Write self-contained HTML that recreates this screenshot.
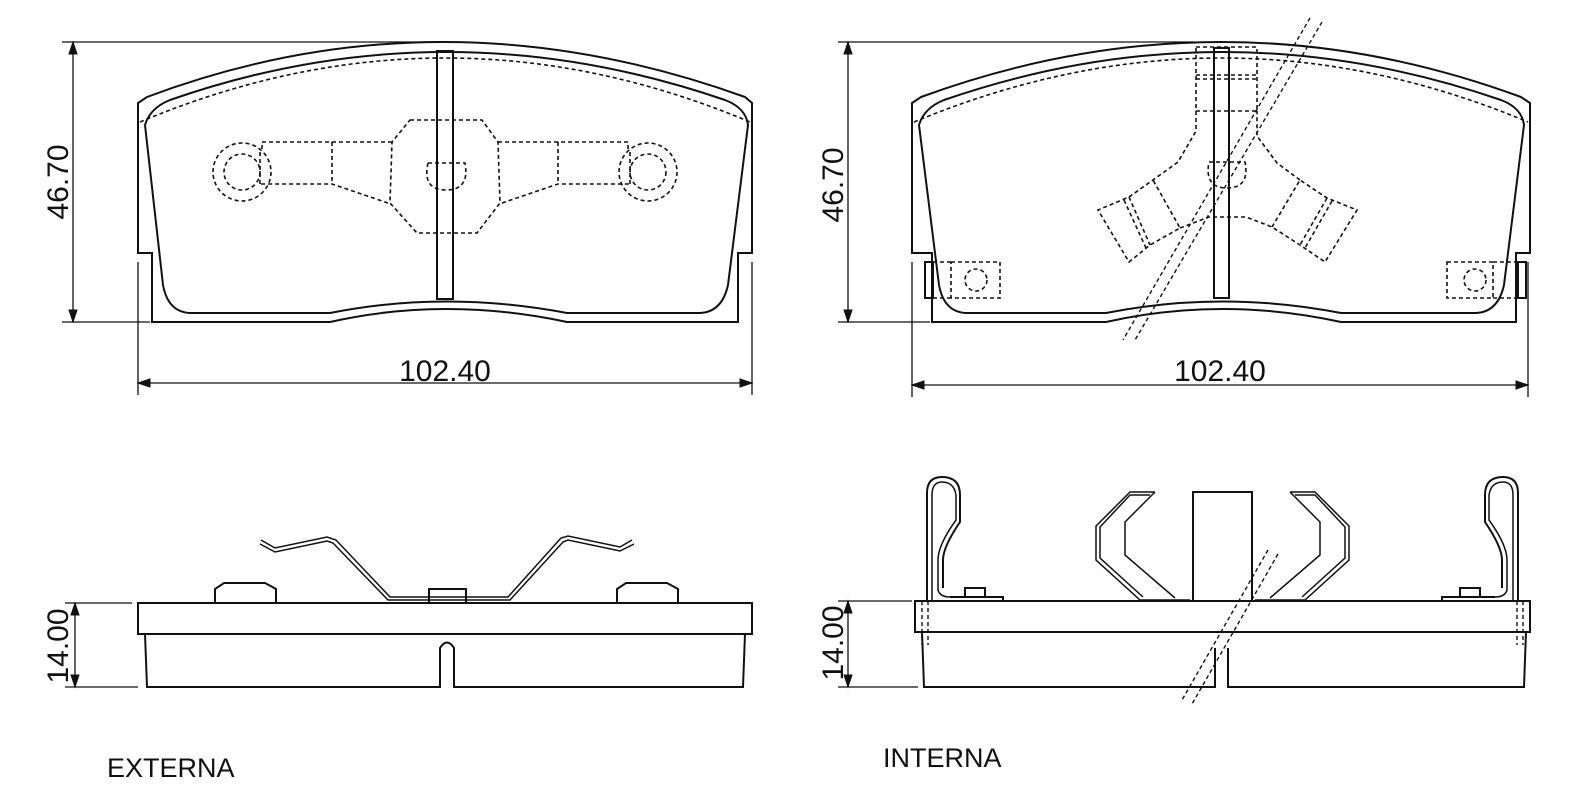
<!DOCTYPE html>
<html><head><meta charset="utf-8"><style>
html,body{margin:0;padding:0;background:#fff;}
svg{display:block}
text{font-family:"Liberation Sans",sans-serif;fill:#111}
</style></head><body>
<svg width="1573" height="800" viewBox="0 0 1573 800" xmlns="http://www.w3.org/2000/svg">
<g fill="none" stroke="#111" stroke-width="2">
<!-- ===== TOP LEFT PAD ===== -->
<path d="M138,253 L138,103 L147,97 Q440,-13 745,97 L752,103 L752,253 L738,253 L738,322 L567,322 Q445,296 330,322 L152,322 L152,253 Z"/>
<path d="M145,125 Q150,108 170,100 Q445,4 725,100 Q746,108 748,125 L728,285 Q722,312 700,313 L567,313 Q445,290 330,313 L190,313 Q168,312 163,285 Z"/>
<rect x="437" y="51" width="16" height="248"/>
<path d="M140,122 Q445,-6 750,122" stroke-dasharray="4,3" stroke-width="1.6"/>
<g stroke-dasharray="4,3" stroke-width="1.6">
<path d="M410,120 L482,120 L498,142 L500,203 L477,233 L417,233 L390,203 L392,142 Z"/>
<path d="M392,142 L262,142 L262,150 M388,203 L332,184 L260,184 M332,142 L332,184"/>
<circle cx="242" cy="172" r="29"/><circle cx="242" cy="172" r="18"/>
<path d="M260,152 L260,186"/>
<path d="M498,142 L628,142 L628,150 M502,203 L558,184 L630,184 M558,142 L558,184"/>
<circle cx="648" cy="172" r="29"/><circle cx="648" cy="172" r="18"/>
<path d="M630,152 L630,186"/>
<path d="M428,163 L465,163 Q470,190 446,190 Q422,190 428,163"/>
</g>
<path d="M62,42 L440,42 M62,322 L150,322 M73,42 L73,322 M138,262 L138,395 M752,262 L752,395 M138,383 L752,383" stroke-width="1.3"/>
<path d="M73,42 l-4,12 l8,0 Z M73,322 l-4,-12 l8,0 Z M138,383 l12,-4 l0,8 Z M752,383 l-12,-4 l0,8 Z" fill="#111" stroke-width="1"/>

<!-- ===== TOP RIGHT PAD ===== -->
<path d="M912,253 L912,103 L921,97 Q1222,-13 1521,97 L1530,103 L1530,253 L1516,253 L1516,322 L1341,322 Q1222,296 1106,322 L932,322 L932,253 Z"/>
<path d="M919,125 Q924,108 944,100 Q1222,4 1501,100 Q1522,108 1524,125 L1504,285 Q1498,312 1476,313 L1341,313 Q1222,290 1106,313 L966,313 Q944,312 939,285 Z"/>
<rect x="1214" y="48" width="15" height="250"/>
<rect x="925" y="262" width="8" height="36"/><rect x="1518" y="262" width="8" height="36"/>
<g stroke-dasharray="4,3" stroke-width="1.6">
<path d="M914,122 Q1222,-6 1528,122"/>
<path d="M1196,47 L1257,47 L1257,111 L1196,111 Z M1196,75 L1257,75 M1196,79 L1257,79"/>
<path d="M1196,111 L1196,131 L1178,162 L1153,180 L1129,197 L1098,210 L1129,262 L1150,245 L1180,228 L1153,180 M1129,197 L1150,245 M1124,200 L1146,248"/>
<path d="M1180,228 L1209,217 L1246,217 L1272,227 L1300,245 L1325,262 L1357,210 L1327,198 L1300,180 L1272,227 M1327,198 L1300,245 M1332,201 L1305,248 M1300,180 L1277,163 L1257,136 L1257,111"/>
<path d="M1209,162 L1245,162 Q1250,188 1227,188 Q1204,188 1209,162"/>
<path d="M951,262 L1000,262 L1000,298 L951,298 Z M933,262 L951,262 M933,298 L951,298"/><circle cx="976" cy="280" r="11"/>
<path d="M1447,262 L1493,262 L1493,298 L1447,298 Z M1493,262 L1518,262 M1493,298 L1518,298"/><circle cx="1475" cy="280" r="11"/>
<path d="M1310,18 L1123,340 M1322,22 L1135,340" stroke-width="1.4"/>
</g>
<path d="M838,42 L1195,42 M838,322 L930,322 M848,42 L848,322 M912,262 L912,397 M1528,262 L1528,397 M912,385 L1528,385" stroke-width="1.3"/>
<path d="M848,42 l-4,12 l8,0 Z M848,322 l-4,-12 l8,0 Z M912,385 l12,-4 l0,8 Z M1528,385 l-12,-4 l0,8 Z" fill="#111" stroke-width="1"/>

<!-- ===== BOTTOM LEFT SIDE VIEW ===== -->
<rect x="138" y="603" width="614" height="31"/>
<path d="M145,634 L147,687 L440,687 L440,648 Q447,637 454,648 L454,687 L743,687 L745,634"/>
<path d="M215,603 L215,589 L224,583 L265,583 L276,589 L276,603 Z M617,603 L617,589 L626,583 L667,583 L678,589 L678,603 Z"/>
<rect x="429" y="589" width="37" height="14"/>
<path d="M260,544 L275,552 L327,541 L333,543 L388,600 L510,600 L563,542 L568,540 L620,551 L634,544" stroke-width="1.5"/>
<path d="M261,540 L275,548 L327,537 L336,540 L390,597 L508,597 L561,538 L568,536 L620,547 L632,540" stroke-width="1.5"/>
<path d="M65,603 L132,603 M65,687 L138,687 M75,603 L75,687" stroke-width="1.3"/>
<path d="M75,603 l-4,12 l8,0 Z M75,687 l-4,-12 l8,0 Z" fill="#111" stroke-width="1"/>

<!-- ===== BOTTOM RIGHT SIDE VIEW ===== -->
<rect x="915" y="601" width="615" height="31"/>
<path d="M922,632 L924,687 L1215,687 L1215,648 M1228,648 L1228,687 L1524,687 L1526,632"/>
<path d="M1193,600 L1193,492 L1252,492 L1252,600"/>
<path d="M932,601 L932,495 Q932,482 942,482 Q954,482 956,495 L956,520 Q938,545 938,560 L938,590 Q940,597 950,597 L990,597" stroke-width="1.5"/>
<path d="M927,601 L927,493 Q927,477 942,477 Q960,477 960,495 L960,522 Q943,547 943,560 L943,588"/>
<rect x="965" y="588" width="20" height="9"/><path d="M950,597 L1003,597 L1003,601"/>
<path d="M1513,601 L1513,495 Q1513,482 1503,482 Q1491,482 1489,495 L1489,520 Q1507,545 1507,560 L1507,590 Q1505,597 1495,597 L1455,597" stroke-width="1.5"/>
<path d="M1518,601 L1518,493 Q1518,477 1503,477 Q1485,477 1485,495 L1485,522 Q1502,547 1502,560 L1502,588"/>
<rect x="1460" y="588" width="20" height="9"/><path d="M1495,597 L1442,597 L1442,601"/>
<path d="M1155,492 L1130,492 L1096,526 L1096,560 L1140,600 L1190,600 M1155,492 L1125,522 L1125,555 L1175,598 M1150,495 L1130,495 L1100,527 L1100,558 L1143,597" stroke-width="1.5"/>
<path d="M1290,492 L1315,492 L1349,526 L1349,560 L1305,600 L1255,600 M1290,492 L1320,522 L1320,555 L1270,598 M1295,495 L1315,495 L1345,527 L1345,558 L1302,597" stroke-width="1.5"/>
<g stroke-dasharray="4,3" stroke-width="1.4">
<path d="M922,601 L922,645 M928,601 L928,645 M1517,601 L1517,645 M1523,601 L1523,645"/>
<path d="M1268,550 L1182,700 M1278,554 L1192,704"/>
</g>
<path d="M838,601 L912,601 M838,687 L918,687 M848,601 L848,687" stroke-width="1.3"/>
<path d="M848,601 l-4,12 l8,0 Z M848,687 l-4,-12 l8,0 Z" fill="#111" stroke-width="1"/>
</g>
<text x="445" y="381" font-size="30" text-anchor="middle">102.40</text>
<text x="1220" y="381" font-size="30" text-anchor="middle">102.40</text>
<text transform="translate(68,182) rotate(-90)" font-size="30" text-anchor="middle">46.70</text>
<text transform="translate(843,185) rotate(-90)" font-size="30" text-anchor="middle">46.70</text>
<text transform="translate(68,646) rotate(-90)" font-size="30" text-anchor="middle">14.00</text>
<text transform="translate(843,643) rotate(-90)" font-size="30" text-anchor="middle">14.00</text>
<text x="107" y="777" font-size="27">EXTERNA</text>
<text x="883" y="767" font-size="27">INTERNA</text>
</svg>
</body></html>
